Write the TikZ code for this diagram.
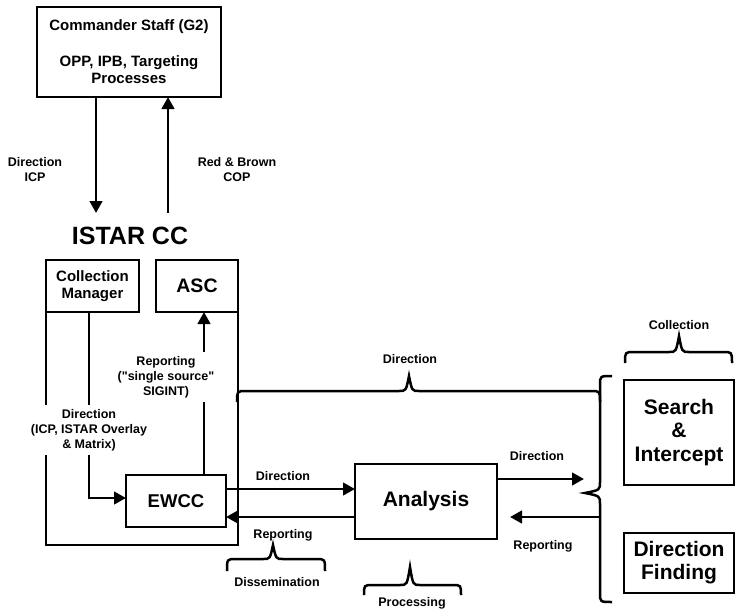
\documentclass[tikz,border=0pt]{standalone}
\usepackage{fontspec}
\setmainfont{Liberation Sans}[Ligatures=TeXOff]
\usetikzlibrary{arrows.meta}
% horizontal brace, tip up: x1, x2, xtip, yends, ystraight, ytip
\newcommand\mybraceh[6]{%
  \draw[brl] (#1,#4) .. controls (#1,#5) .. ({#1+9},#5) -- ({#3-10},#5)
    .. controls ({#3-3},#5) .. (#3,#6) .. controls ({#3+3},#5) .. ({#3+10},#5)
    -- ({#2-9},#5) .. controls (#2,#5) .. (#2,#4);}
% vertical brace, tip left: y1, y2, ytip, xends, xstraight, xtip
\newcommand\mybracev[6]{%
  \draw[brl] (#4,#1) .. controls (#5,#1) .. (#5,{#1+9}) -- (#5,{#3-11})
    .. controls (#5,{#3-3}) .. (#6,#3) .. controls (#5,{#3+3}) .. (#5,{#3+11})
    -- (#5,{#2-9}) .. controls (#5,#2) .. (#4,#2);}
\begin{document}
\begin{tikzpicture}[x=1pt,y=-1pt,
  box/.style={draw,line width=2.7pt,inner sep=0pt,outer sep=0pt,align=center},
  lbl/.style={font=\fontsize{12.5}{15}\selectfont\bfseries,align=center,inner sep=2pt},
  arr/.style={line width=2.7pt,-{Triangle[length=12pt,width=12.5pt]}},
  ln/.style={line width=2.7pt},
  brl/.style={line width=2.5pt}]
\useasboundingbox (0,0) rectangle (736,610);

% boxes
\node[box,minimum width=184pt,minimum height=90pt,font=\fontsize{15}{17}\selectfont\bfseries] (cmd) at (129,52) {Commander Staff (G2)\\[19pt]OPP, IPB, Targeting\\Processes};
\node[font=\fontsize{25}{30}\selectfont\bfseries] (istar) at (130,236) {ISTAR CC};
\node[box,minimum width=93pt,minimum height=52pt,font=\fontsize{15}{17}\selectfont\bfseries] (cm) at (92.5,286) {Collection\\Manager};
\node[box,minimum width=82pt,minimum height=52pt,font=\fontsize{19.5}{22}\selectfont\bfseries] (asc) at (197,286) {ASC};
\node[box,minimum width=100pt,minimum height=52pt,font=\fontsize{18.5}{22}\selectfont\bfseries] (ewcc) at (176,501) {EWCC};
\node[box,minimum width=142pt,minimum height=75pt,font=\fontsize{21}{24}\selectfont\bfseries] (ana) at (426,501.5) {Analysis};
\node[box,minimum width=110pt,minimum height=105pt,font=\fontsize{21}{23.5}\selectfont\bfseries] (si) at (679,432.5) {Search\\\&\\Intercept};
\node[box,minimum width=110pt,minimum height=60pt,font=\fontsize{21}{23}\selectfont\bfseries] (df) at (679,563) {Direction\\Finding};

% labels
\node[lbl] (tl1) at (35,170) {Direction\\ICP};
\node[lbl] (tl2) at (237,170) {Red \& Brown\\COP};
\node[lbl,inner sep=4pt] (dlbl) at (89,430) {Direction\\(ICP, ISTAR Overlay\\\& Matrix)};
\node[lbl,inner sep=4pt] (rlbl) at (166,377) {Reporting\\("single source"\\SIGINT)};
\node[lbl] (ldir) at (410,359) {Direction};
\node[lbl] (ldir2) at (283,476) {Direction};
\node[lbl] (lrep2) at (283,535) {Reporting};
\node[lbl] (ldir3) at (537,456) {Direction};
\node[lbl] (lrep3) at (543,546) {Reporting};
\node[lbl] (ldis) at (277,582) {Dissemination};
\node[lbl] (lpro) at (412,603) {Processing};
\node[lbl] (lcol) at (679,325) {Collection};

% top arrows
\coordinate (ax1) at (96,213);
\coordinate (ax2) at (168,213);
\draw[arr] (cmd.south -| ax1) -- (ax1);
\draw[arr] (ax2) -- (cmd.south -| ax2);

% ISTAR CC outline
\coordinate (obot) at (0,545);
\draw[ln] (cm.south west) -- (dlbl.north -| cm.west);
\draw[ln] (dlbl.south -| cm.west) -- (obot -| cm.west) -- (obot -| asc.east) -- (asc.south east);

% CM direction
\coordinate (cx) at (89,0);
\draw[ln] (cm.south -| cx) -- (dlbl.north -| cx);
\draw[arr] (dlbl.south -| cx) |- ([yshift=3pt]ewcc.west);

% reporting to ASC
\coordinate (rx) at (204,0);
\draw[ln] (ewcc.north -| rx) -- (rlbl.south -| rx);
\draw[arr] (rlbl.north -| rx) -- (asc.south -| rx);

% EWCC <-> Analysis
\draw[arr] ([yshift=12pt]ewcc.east) -- ([yshift=12pt]ewcc.east -| ana.west);
\draw[arr] ([yshift=-16pt]ewcc.east -| ana.west) -- ([yshift=-16pt]ewcc.east);

% Analysis <-> collection
\coordinate (dtip) at (584,479);
\draw[arr] (ana.east |- dtip) -- (dtip);
\coordinate (rs) at (600,517);
\coordinate (rt) at (510,517);
\draw[arr] (rs) -- (rt);

% braces
\mybraceh{237}{600}{409}{402}{391}{376}
\mybracev{376}{602}{493}{612}{600}{585}
\mybraceh{625}{732}{679}{363}{352}{336}
\mybraceh{227}{325}{273}{571}{559}{545}
\mybraceh{364}{461}{410}{595}{585}{567}
\end{tikzpicture}
\end{document}
